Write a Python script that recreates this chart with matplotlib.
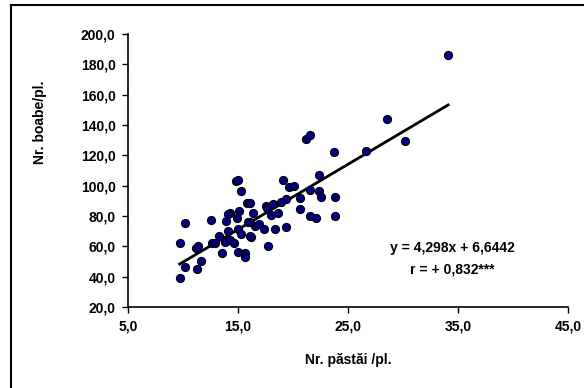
import numpy as np
import matplotlib
matplotlib.use('Agg')
import matplotlib.pyplot as plt
from matplotlib.ticker import FuncFormatter

# Nr. pastai / planta
pastai = [34.1, 28.5, 30.2, 26.6, 21.2, 21.5, 23.7, 22.4, 19.1, 19.6,
          20.1, 21.5, 22.4, 22.5, 23.8, 20.6, 19.4, 17.5, 18.2, 16.4,
          18.0, 18.6, 20.6, 21.5, 22.1, 23.8, 16.5, 17.4, 18.4, 19.4,
          16.2, 17.7, 15.3, 15.8, 14.3, 15.1, 14.1, 14.9, 10.2, 12.5,
          13.9, 15.9, 16.9, 14.1, 15.0, 15.3, 16.1, 9.7, 11.2, 12.6,
          13.3, 13.8, 13.5, 14.6, 15.0, 15.6, 15.6, 11.6, 10.2, 11.3,
          9.7, 14.8, 15.0, 17.6, 11.4, 14.3, 12.9, 18.9, 16.1, 16.1]
# Nr. boabe / planta
boabe = [185.9, 144.0, 129.3, 122.6, 131.0, 133.2, 122.4, 106.8, 103.9, 98.9,
         100.0, 97.3, 96.2, 92.2, 92.5, 91.8, 91.4, 86.8, 88.1, 82.3,
         80.8, 82.3, 84.6, 80.3, 78.6, 80.3, 73.5, 71.6, 71.6, 72.7,
         66.1, 59.9, 96.7, 88.5, 82.3, 83.6, 81.3, 78.6, 75.7, 77.5,
         76.4, 76.0, 75.0, 69.8, 71.4, 68.0, 66.5, 62.1, 59.2, 62.1,
         66.5, 62.8, 55.9, 62.5, 56.2, 55.5, 53.2, 50.6, 46.2, 45.1,
         39.4, 102.8, 103.9, 85.2, 60.0, 64.0, 62.1, 89.5, 88.7, 76.2]

slope = 4.298
intercept = 6.6442
x_ticks = [5, 15, 25, 35, 45]
y_ticks = [20, 40, 60, 80, 100, 120, 140, 160, 180, 200]

plt.rcParams['font.family'] = ['Liberation Sans', 'DejaVu Sans']
plt.rcParams['font.weight'] = 'bold'
fs = 10

fig = plt.figure(figsize=(5.84, 3.88), dpi=100)
ax = fig.add_axes([128 / 584, 81 / 388, 440 / 584, 273 / 388])

ax.scatter(pastai, boabe, s=34, c='#000080', edgecolors='black', linewidths=0.8, zorder=3)

xl = np.array([min(pastai), max(pastai)])
ax.plot(xl, slope * xl + intercept, color='black', lw=2, zorder=2)

ax.set_xlim(5, 45)
ax.set_ylim(20, 200)
ax.set_xticks(x_ticks)
ax.set_yticks(y_ticks)
comma = FuncFormatter(lambda v, p: ('%.1f' % v).replace('.', ','))
ax.xaxis.set_major_formatter(comma)
ax.yaxis.set_major_formatter(comma)
ax.tick_params(direction='out', length=4, width=1, pad=5, labelsize=fs)
for s in ['top', 'right']:
    ax.spines[s].set_visible(False)
for s in ['left', 'bottom']:
    ax.spines[s].set_linewidth(1.2)
for lab in ax.get_xticklabels() + ax.get_yticklabels():
    lab.set_fontweight('bold')

ax.text(34.5, 59, 'y = 4,298x + 6,6442', ha='center', va='center', fontsize=fs, fontweight='bold')
ax.text(34.5, 44.5, 'r = + 0,832***', ha='center', va='center', fontsize=fs, fontweight='bold')

fig.text(348 / 584, 1 - 360 / 388, 'Nr. păstăi /pl.', ha='center', va='center', fontsize=fs, fontweight='bold')
fig.text(40 / 584, 1 - 122 / 388, 'Nr. boabe/pl.', ha='center', va='center', rotation=90, fontsize=fs, fontweight='bold')

# outer chart frame (left and top edges visible)
fig.add_artist(plt.Line2D([11 / 584, 11 / 584], [0, 1 - 5 / 388], color='black', lw=1.5))
fig.add_artist(plt.Line2D([11 / 584, 1], [1 - 5 / 388, 1 - 5 / 388], color='black', lw=1.5))

fig.savefig('out.png', dpi=100)
